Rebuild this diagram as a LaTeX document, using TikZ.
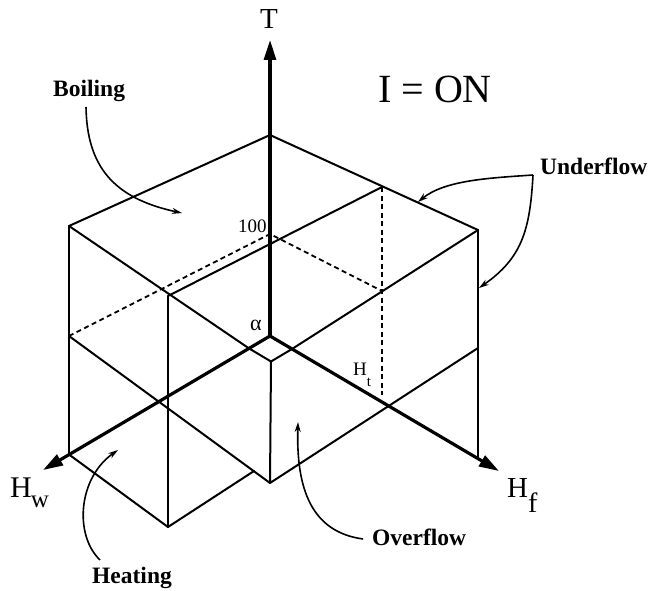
\documentclass[tikz,border=0pt]{standalone}
\usepackage{fontspec}
\setmainfont{Liberation Serif}
\usetikzlibrary{arrows.meta}
\begin{document}
\begin{tikzpicture}[x=1pt,y=-1pt,
  edge/.style={line width=2pt, line join=round, line cap=round},
  axisline/.style={line width=3.2pt, -{Triangle[length=20pt,width=12pt]}},
  dsh/.style={line width=1.8pt, dash pattern=on 5pt off 3.5pt},
  callout/.style={line width=1.6pt, -{Stealth[length=10pt,width=6pt]}},
  lbl/.style={font=\fontsize{23.5}{24}\selectfont\bfseries, inner sep=0pt, anchor=base west},
  txt/.style={inner sep=0pt, anchor=base west},
  ]
\useasboundingbox (0,0) rectangle (653,591);
% key points
\coordinate (O) at (270,336);
\coordinate (A) at (270,135);
\coordinate (B) at (69,226);
\coordinate (C) at (478,230);
\coordinate (D) at (168,296);
\coordinate (E) at (382,187);
\coordinate (L) at (249,348.4);
\coordinate (R) at (292,349);
\coordinate (Bd) at (271,361.5);
\coordinate (P) at (69,454.5);
\coordinate (Q) at (69,336);
\coordinate (F) at (168,527);
\coordinate (G) at (270,483);
\coordinate (M) at (478,348);
\coordinate (S) at (478,458.6);
\coordinate (X) at (254,471);
\coordinate (H) at (270,234);
\coordinate (K) at (382,291);
\coordinate (Kb) at (382,395);
\coordinate (Ttip) at (270,40);
\coordinate (Wtip) at (43,470);
\coordinate (Ftip) at (499,471);
% box edges
\draw[edge] (B) -- (A) -- (C);
\draw[edge] (B) -- (L);
\draw[edge] (C) -- (R);
\draw[edge] (D) -- (E);
\draw[edge] (B) -- (P);
\draw[edge] (C) -- (S);
\draw[edge] (D) -- (F);
\draw[edge] (Q) -- (G);
\draw[edge] (P) -- (F) -- (X);
\draw[edge] (L) -- (Bd) -- (R);
\draw[edge] (Bd) -- (G) -- (M);
% dashed
\draw[dsh] (Q) -- (H) -- (K);
\draw[dsh] (E) -- (Kb);
% axes
\draw[axisline] (O) -- (Ttip);
\draw[axisline] (O) -- (Wtip);
\draw[axisline] (O) -- (Ftip);
% labels
\node[lbl] (boil) at (53,97) {Boiling};
\node[lbl] (under) at (540,175) {Underflow};
\node[lbl] (over) at (372,545) {Overflow};
\node[lbl] (heat) at (92,583) {Heating};
\node[txt, font=\fontsize{40}{40}\selectfont] (ion) at (378,103) {I = ON};
\node[inner sep=0pt, anchor=base, font=\fontsize{29}{29}\selectfont] (tlab) at (269,29) {T};
\node[txt, font=\fontsize{30}{30}\selectfont] (hw) at (10,497) {H\kern-1pt\raisebox{-10pt}{\fontsize{25}{25}\selectfont w}};
\node[txt, font=\fontsize{29}{29}\selectfont] (hf) at (507,497) {H\raisebox{-15pt}{\fontsize{28}{28}\selectfont f}};
\node[txt, font=\fontsize{19}{19}\selectfont] (ht) at (353,375) {H\raisebox{-11pt}{\fontsize{15}{15}\selectfont t}};
\node[txt, font=\fontsize{19}{19}\selectfont] (hund) at (238,232) {100};
\node[txt, font=\fontsize{22}{22}\selectfont] (alpha) at (250,330) {α};
% callouts
\coordinate (bs) at (86,107);
\coordinate (be) at (182,213);
\draw[callout] (bs) .. controls (87,165) and (112,198) .. (be);
\coordinate (hs) at (100,560);
\coordinate (he) at (118,450);
\draw[callout] (hs) .. controls (74,535) and (78,478) .. (he);
\coordinate (os) at (363,539);
\coordinate (oe) at (298,422);
\draw[callout] (os) .. controls (312,532) and (296,490) .. (oe);
\coordinate (us) at (533,175);
\coordinate (ue1) at (418,202);
\coordinate (ue2) at (479,288);
\draw[callout] (us) .. controls (490,178) and (445,180) .. (ue1);
\draw[callout] (us) .. controls (530,230) and (522,258) .. (ue2);
\end{tikzpicture}
\end{document}
